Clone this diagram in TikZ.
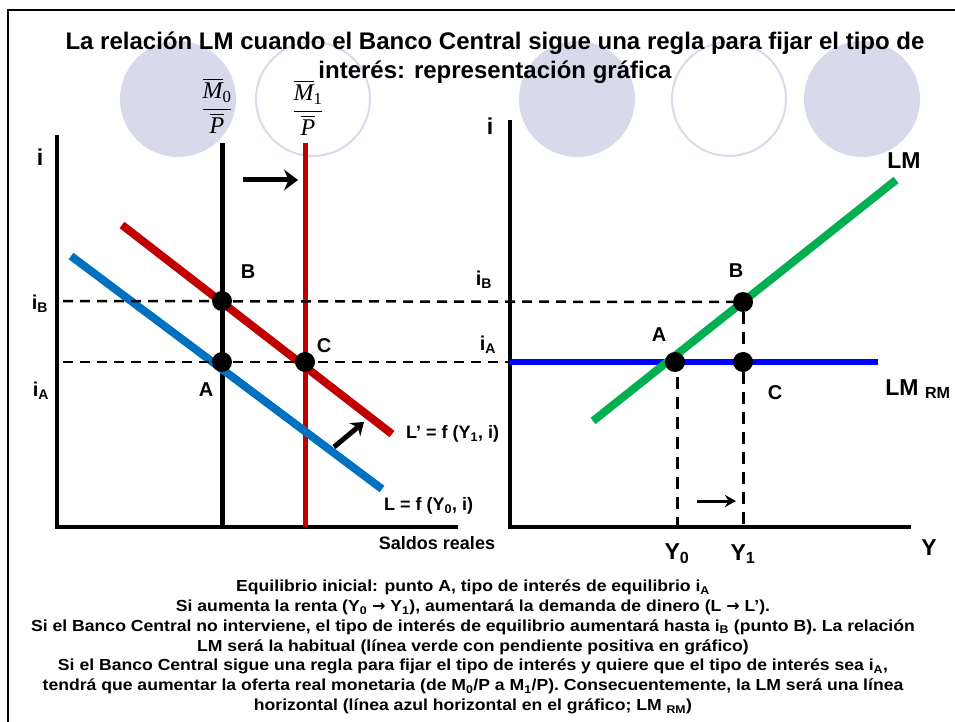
\documentclass[tikz,border=0pt]{standalone}
\usepackage{amsmath}
\usepackage{fontspec}
\setmainfont{Liberation Sans}
\newfontfamily\serifit{Liberation Serif}
\newfontfamily\notefont[FakeStretch=1.1]{Liberation Sans}
\newfontfamily\arrowfont{DejaVu Sans}
\newcommand{\fto}{{\arrowfont\bfseries →}}
\usetikzlibrary{arrows.meta,positioning}
\definecolor{circfill}{RGB}{217,217,236}
\definecolor{lred}{RGB}{192,0,0}
\definecolor{lblue}{RGB}{0,112,192}
\definecolor{lgreen}{RGB}{0,176,80}
\definecolor{rmblue}{RGB}{0,0,255}
\tikzset{
  axis/.style={line width=4.5pt},
  curve/.style={line width=8pt},
  guide/.style={line width=2.5pt, dash pattern=on 10pt off 7pt},
  vguide/.style={line width=3pt, dash pattern=on 12pt off 8pt},
  dot/.style={circle, fill=black, inner sep=0pt, minimum size=20pt},
  lbl/.style={font=\bfseries\fontsize{20}{22}\selectfont, inner sep=0pt},
  biglbl/.style={font=\bfseries\fontsize{23}{25}\selectfont, inner sep=0pt},
  small/.style={font=\bfseries\fontsize{18}{20}\selectfont, inner sep=0pt, anchor=west},
  bigarrow/.style={line width=5pt, -{Stealth[length=14pt,width=21pt]}}
}
\begin{document}
\begin{tikzpicture}[x=1pt,y=-1pt]
\useasboundingbox (0,0) rectangle (955,722);
% positions of the two rates and the two money stocks
\newcommand{\yiB}{301}
\newcommand{\yiA}{362}
\newcommand{\xMo}{222}
\newcommand{\xMi}{305}
\newcommand{\xYo}{677}
\newcommand{\xYi}{743}

% circles behind the title
\fill[circfill] (178,99) circle (58pt);
\draw[circfill, line width=2pt] (313,99) circle (57pt);
\fill[circfill] (577,99) circle (58pt);
\draw[circfill, line width=2pt] (729,99) circle (57pt);
\fill[circfill] (862,99) circle (58pt);

% frame
\draw[line width=2.5pt] (955,10) -- (8,10) -- (8,722);

\node[font=\bfseries\fontsize{24}{29}\selectfont, align=center] (title) at (495,58)
  {La relación LM cuando el Banco Central sigue una regla para fijar el tipo de\\interés: representación gráfica};

%% left panel: money market
\coordinate (lo) at (57,527);
\coordinate (ltop) at (57,135);
\coordinate (lright) at (458,527);
\draw[axis] (ltop) -- (lo) -- (lright);
\node[biglbl] (li) at (40,157) {i};

\coordinate (mzTop) at (\xMo,143);
\coordinate (mzBot) at (\xMo,527);
\coordinate (moTop) at (\xMi,143);
\coordinate (moBot) at (\xMi,527);
\draw[line width=5pt] (mzTop) -- (mzBot);
\draw[line width=5pt, lred] (moTop) -- (moBot);

\node[font=\serifit\fontsize{24}{26}\selectfont] (mzero) at (217,106)
  {$\dfrac{\overline{\textit{M}}_{\text{0}}}{\overline{\textit{P}}}$};
\node[font=\serifit\fontsize{24}{26}\selectfont] (mone) at (308,108)
  {$\dfrac{\overline{\textit{M}}_{\text{1}}}{\overline{\textit{P}}}$};

\coordinate (shiftA) at (243,180);
\coordinate (shiftB) at (298,180);
\draw[bigarrow] (shiftA) -- (shiftB);

\coordinate (lpA) at (122,225);
\coordinate (lpB) at (392,434);
\coordinate (lA) at (71,256);
\coordinate (lB) at (382,489);
\draw[curve, lblue] (lA) -- (lB);
\draw[curve, lred] (lpA) -- (lpB);

\coordinate (iBleft) at (63,\yiB);
\coordinate (iAleft) at (63,\yiA);
\coordinate (iAright) at (510,\yiA);
\draw[guide] (iAleft) -- (iAright);

\coordinate (upA) at (334,447);
\coordinate (upB) at (364,422);
\draw[line width=5pt, -{Stealth[length=12pt,width=17pt]}] (upA) -- (upB);

\node[dot] (ptB) at (\xMo,\yiB) {};
\node[dot] (ptA) at (\xMo,\yiA) {};
\node[dot] (ptC) at (\xMi,\yiA) {};
\node[lbl] (labB) at (248,272) {B};
\node[lbl] (labA) at (206,390) {A};
\node[lbl] (labC) at (324,346) {C};
\node[lbl] (liB) at (40,304) {i\textsubscript{B}};
\node[lbl] (liA) at (41,391) {i\textsubscript{A}};

\node[small] (lplabel) at (406,434) {L’ = f (Y\textsubscript{1}, i)};
\node[small] (llabel) at (384,506) {L = f (Y\textsubscript{0}, i)};
\node[small, anchor=center] (saldos) at (437,543) {Saldos reales};

%% right panel: LM
\coordinate (ro) at (510,527);
\coordinate (rtop) at (510,120);
\coordinate (rright) at (911,527);
\draw[axis] (rtop) -- (ro) -- (rright);
\node[biglbl] (ri) at (490,126) {i};
\node[biglbl] (rY) at (929,548) {Y};

\coordinate (lmA) at (593,421);
\coordinate (lmB) at (896,180);
\coordinate (rmB) at (878,\yiA);
\draw[line width=6.5pt, rmblue] (iAright) -- (rmB);
\draw[curve, lgreen] (lmA) -- (lmB);

\node[dot] (rA) at (675,\yiA) {};
\node[dot] (rC) at (\xYi,\yiA) {};
\node[dot] (rB) at (\xYi,302) {};
\coordinate (yzTop) at (\xYo,377);
\coordinate (yzBot) at (\xYo,527);
\coordinate (yoBot) at (\xYi,527);
\draw[guide] (iBleft) -- (rB);
\draw[vguide] (yzTop) -- (yzBot);
\draw[vguide] (rB) -- (yoBot);

\coordinate (moveA) at (697,501);
\coordinate (moveB) at (736,501);
\draw[line width=3pt, -{Stealth[length=11pt,width=12pt]}] (moveA) -- (moveB);

\node[lbl] (rlabB) at (736,271) {B};
\node[lbl] (rlabA) at (659,335) {A};
\node[lbl] (rlabC) at (775,393) {C};
\node[lbl] (riB) at (484,280) {i\textsubscript{B}};
\node[lbl] (riA) at (488,345) {i\textsubscript{A}};
\node[biglbl] (lmlabel) at (904,161) {LM};
\node[biglbl] (lmrm) at (918,389) {LM \textsubscript{RM}};
\node[biglbl] (yzero) at (\xYo,554) {Y\textsubscript{0}};
\node[biglbl] (yone) at (\xYi,554) {Y\textsubscript{1}};

%% explanation
\node[font=\notefont\bfseries\fontsize{16}{19.8}\selectfont, align=center] (notes) at (473,647)
  {Equilibrio inicial: punto A, tipo de interés de equilibrio i\textsubscript{A}\\
   Si aumenta la renta (Y\textsubscript{0} \fto{} Y\textsubscript{1}), aumentará la demanda de dinero (L \fto{} L’).\\
   Si el Banco Central no interviene, el tipo de interés de equilibrio aumentará hasta i\textsubscript{B} (punto B). La relación\\
   LM será la habitual (línea verde con pendiente positiva en gráfico)\\
   Si el Banco Central sigue una regla para fijar el tipo de interés y quiere que el tipo de interés sea i\textsubscript{A},\\
   tendrá que aumentar la oferta real monetaria (de M\textsubscript{0}/P a M\textsubscript{1}/P). Consecuentemente, la LM será una línea\\
   horizontal (línea azul horizontal en el gráfico; LM \textsubscript{RM})};
\end{tikzpicture}
\end{document}
